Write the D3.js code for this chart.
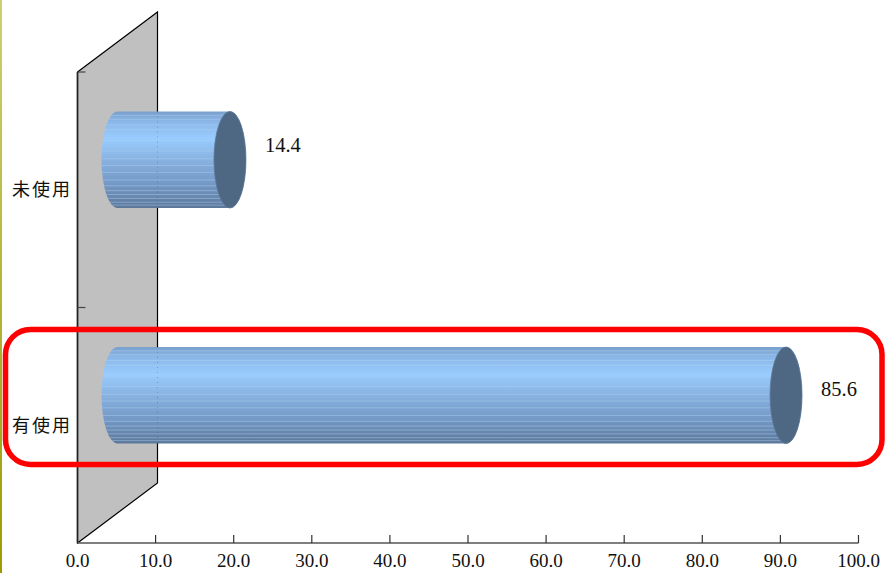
<!DOCTYPE html>
<html lang="zh-Hant">
<head>
  <meta charset="UTF-8">
  <title>使用情形</title>
  <style>
    body { margin: 0; background: #fff; }
    svg { display: block; }
    .cat { font-family: 'Noto Sans CJK TC', sans-serif; font-size: 18px; letter-spacing: 2px; fill: #111; }
    .num { font-family: 'Liberation Serif', 'DejaVu Serif', serif; font-size: 19px; fill: #111; }
    .val { font-family: 'Liberation Serif', 'DejaVu Serif', serif; font-size: 20.5px; fill: #111; }
  </style>
</head>
<body>
  <div id="chart"></div>
  <script src="https://cdn.jsdelivr.net/npm/d3@7/dist/d3.min.js"></script>
  <script>
    // values
    const categories = ['未使用', '有使用'];
    const values = [14.4, 85.6];
    const tickValues = [0, 10, 20, 30, 40, 50, 60, 70, 80, 90, 100];

    const width = 886, height = 573;
    const depthX = 80, depthY = -60;   // 3D wall depth offset
    const labelShift = [-15, -6];      // value labels sit a bit above the bar centre

    const svg = d3.select('#chart').append('svg')
      .attr('width', width)
      .attr('height', height);

    const x = d3.scaleLinear().domain([0, 100]).range([77.5, 858.5]);
    const y = d3.scaleBand().domain(categories).range([72, 543]).padding(0);

    const defs = svg.append('defs');
    const grad = defs.append('linearGradient')
      .attr('id', 'barGrad')
      .attr('x1', 0).attr('y1', 0).attr('x2', 0).attr('y2', 1);
    [[0, '#7aa0cc'], [0.1, '#8ab6e6'], [0.28, '#99ccff'], [0.5, '#88b2e0'],
     [0.75, '#7499c6'], [1, '#5b7799']].forEach(s => {
      grad.append('stop').attr('offset', s[0]).attr('stop-color', s[1]);
    });

    // left border line
    const edge = defs.append('linearGradient')
      .attr('id', 'edgeGrad')
      .attr('x1', 0).attr('y1', 0).attr('x2', 0).attr('y2', 1);
    edge.append('stop').attr('offset', 0).attr('stop-color', '#cdd070');
    edge.append('stop').attr('offset', 1).attr('stop-color', '#9c9c00');
    svg.append('rect')
      .attr('x', 0).attr('y', 0).attr('width', 2).attr('height', height)
      .attr('fill', 'url(#edgeGrad)');

    // back wall
    const x0 = x(0), yTop = y.range()[0], yBot = y.range()[1];
    svg.append('path')
      .attr('d', `M${x0},${yTop} L${x0 + depthX},${yTop + depthY} L${x0 + depthX},${yBot + depthY} L${x0},${yBot} Z`)
      .attr('fill', '#c0c0c0')
      .attr('stroke', '#000')
      .attr('stroke-width', 1.2);
    svg.append('line')
      .attr('x1', x0).attr('x2', x0).attr('y1', yTop).attr('y2', yBot)
      .attr('stroke', '#222').attr('stroke-width', 1.6);

    // category ticks on the wall edge
    const bounds = [yTop, y(categories[1])];
    svg.selectAll('.ytick')
      .data(bounds)
      .enter().append('line')
      .attr('x1', x0).attr('x2', x0 + 8)
      .attr('y1', d => d).attr('y2', d => d)
      .attr('stroke', '#444').attr('stroke-width', 1.2);

    // x axis
    svg.append('line')
      .attr('x1', x0).attr('x2', x(100)).attr('y1', yBot).attr('y2', yBot)
      .attr('stroke', '#555').attr('stroke-width', 1.6);
    svg.selectAll('.xtick')
      .data(tickValues.slice(1))
      .enter().append('line')
      .attr('x1', d => x(d)).attr('x2', d => x(d))
      .attr('y1', yBot - 8).attr('y2', yBot)
      .attr('stroke', '#333').attr('stroke-width', 1.2);
    svg.selectAll('.xlabel')
      .data(tickValues)
      .enter().append('text')
      .attr('class', 'num')
      .attr('x', d => x(d))
      .attr('y', 567)
      .attr('text-anchor', 'middle')
      .text(d => d.toFixed(1));

    // cylinders
    const barH = y.bandwidth() * 0.41;
    const rx = 16;
    const stripes = [0.04, 0.08, 0.14, 0.19, 0.3, 0.41, 0.49, 0.56, 0.63, 0.71, 0.77, 0.82, 0.86, 0.9, 0.94, 0.97];

    const bars = svg.selectAll('.bar')
      .data(values)
      .enter().append('g')
      .attr('class', 'bar');

    bars.each(function (d, i) {
      const g = d3.select(this);
      const cy = y(categories[i]) + y.bandwidth() / 2 + depthY / 2;
      const left = x(0) + depthX / 2;
      const right = x(d) + depthX / 2;
      const top = cy - barH / 2, bot = cy + barH / 2;
      const ry = barH / 2;
      const body = `M${left},${top} L${right},${top} A${rx},${ry} 0 0 1 ${right},${bot} L${left},${bot} A${rx},${ry} 0 0 1 ${left},${top} Z`;

      defs.append('clipPath').attr('id', 'clip' + i)
        .append('path').attr('d', body);

      g.append('path')
        .attr('d', body)
        .attr('fill', 'url(#barGrad)');

      g.append('g').attr('clip-path', `url(#clip${i})`)
        .selectAll('line')
        .data(stripes)
        .enter().append('line')
        .attr('x1', left - rx).attr('x2', right)
        .attr('y1', s => top + s * barH).attr('y2', s => top + s * barH)
        .attr('stroke', '#b4d4f6')
        .attr('stroke-opacity', 0.55)
        .attr('stroke-width', 0.8);

      // faint wall edge visible through the bar
      g.append('line')
        .attr('x1', x0 + depthX).attr('x2', x0 + depthX)
        .attr('y1', top).attr('y2', bot)
        .attr('stroke', '#3a4d66').attr('stroke-opacity', 0.35)
        .attr('stroke-dasharray', '1,4');

      g.append('ellipse')
        .attr('cx', right).attr('cy', cy)
        .attr('rx', rx).attr('ry', ry)
        .attr('fill', '#4e6884')
        .attr('stroke', '#5d7898').attr('stroke-width', 0.8);

      g.append('text')
        .attr('class', 'val')
        .attr('x', right + rx + 19)
        .attr('y', cy + labelShift[i])
        .attr('dy', '0.35em')
        .text(d.toFixed(1));
    });

    // category labels
    svg.selectAll('.cat')
      .data(categories)
      .enter().append('text')
      .attr('class', 'cat')
      .attr('x', 12)
      .attr('y', d => y(d) + y.bandwidth() / 2)
      .attr('dy', '0.36em')
      .text(d => d);

    // highlight box
    svg.append('rect')
      .attr('x', 5.5).attr('y', 329.5)
      .attr('width', 876.5).attr('height', 135)
      .attr('rx', 25).attr('ry', 25)
      .attr('fill', 'none')
      .attr('stroke', '#ff0000')
      .attr('stroke-width', 5.5);
  </script>
</body>
</html>
